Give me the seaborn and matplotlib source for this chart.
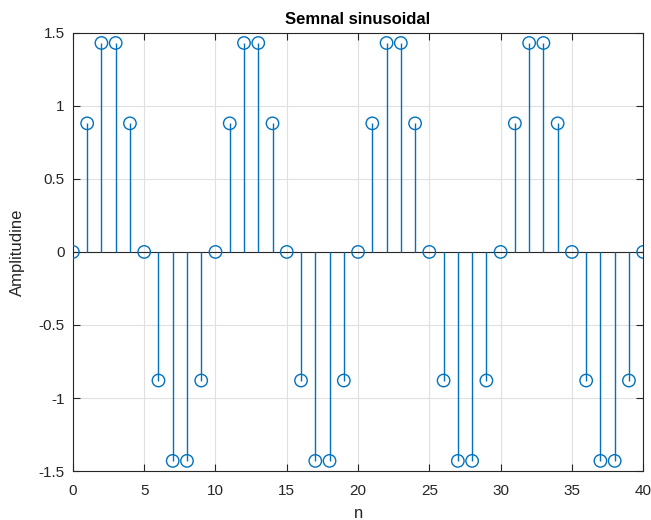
import matplotlib
matplotlib.use("Agg")
import matplotlib.pyplot as plt
import seaborn as sns
import pandas as pd

n = list(range(41))
amplitude = [0, 0.88, 1.43, 1.43, 0.88, 0, -0.88, -1.43, -1.43, -0.88,
             0, 0.88, 1.43, 1.43, 0.88, 0, -0.88, -1.43, -1.43, -0.88,
             0, 0.88, 1.43, 1.43, 0.88, 0, -0.88, -1.43, -1.43, -0.88,
             0, 0.88, 1.43, 1.43, 0.88, 0, -0.88, -1.43, -1.43, -0.88,
             0]
xticks = [0, 5, 10, 15, 20, 25, 30, 35, 40]
yticks = [-1.5, -1, -0.5, 0, 0.5, 1, 1.5]
ytick_labels = ["-1.5", "-1", "-0.5", "0", "0.5", "1", "1.5"]

sns.set_style("ticks")
plt.rcParams['font.family'] = ['Liberation Sans', 'DejaVu Sans']

df = pd.DataFrame({"n": n, "amp": amplitude})
color = "#0072BD"

fig = plt.figure(figsize=(6.51, 5.2), dpi=100)
ax = fig.add_axes([0.112, 0.094, 0.876, 0.843])

ax.grid(True, color="#e0e0e0", linewidth=0.8)
ax.set_axisbelow(True)
ax.axhline(0, color="#262626", linewidth=0.8, zorder=2)
ax.vlines(df["n"], 0, df["amp"], color=color, linewidth=1.0, zorder=3)
sns.scatterplot(data=df, x="n", y="amp", ax=ax, s=80, marker="o",
                facecolor="none", edgecolor=color, linewidth=1.0, zorder=4)

ax.set_xlim(0, 40)
ax.set_ylim(-1.5, 1.5)
ax.set_xticks(xticks)
ax.set_yticks(yticks)
ax.set_yticklabels(ytick_labels)
ax.tick_params(direction="in", top=True, right=True, length=5,
               labelsize=11, colors="#262626", width=0.8)
ax.tick_params(axis="x", pad=9)
ax.tick_params(axis="y", pad=6)
for sp in ax.spines.values():
    sp.set_visible(True)
    sp.set_color("#262626")
    sp.set_linewidth(0.8)
ax.set_xlabel("n", fontsize=12, color="#262626", labelpad=6)
ax.set_ylabel("Amplitudine", fontsize=12, color="#262626", labelpad=10)
ax.set_title("Semnal sinusoidal", fontsize=12, fontweight="bold", color="black", pad=6)

fig.savefig("out.png", dpi=100)
